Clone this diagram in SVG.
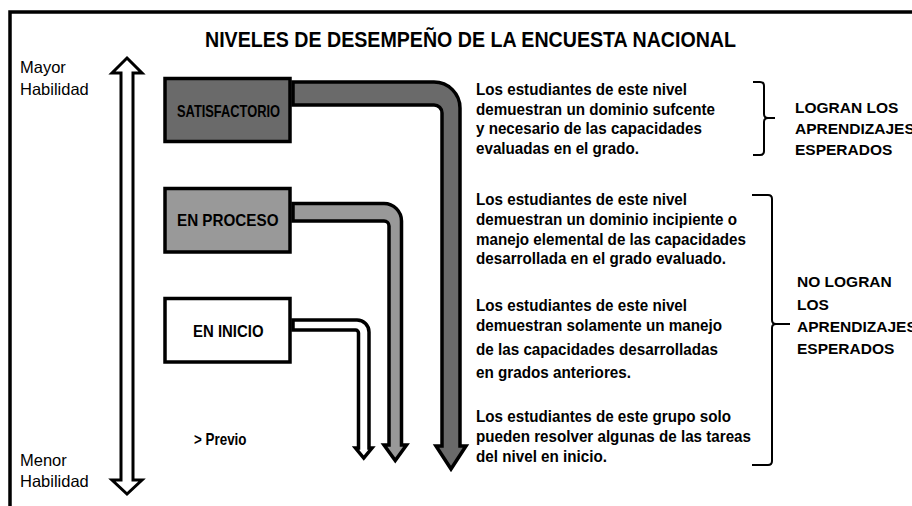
<svg xmlns="http://www.w3.org/2000/svg" width="912" height="506" viewBox="0 0 912 506">
<style>
.w{font-family:"Liberation Sans",Arial,sans-serif;font-weight:bold;fill:#000}
.r{font-family:"Liberation Sans",Arial,sans-serif;font-size:16.5px;fill:#000}
.d{font-size:16.5px}
.lab{font-size:15.5px}
.box{stroke:#000;stroke-width:3.5}
.pipe{stroke:#000;stroke-width:3.5;stroke-linejoin:miter}
.brace{fill:none;stroke:#000;stroke-width:2}
</style>
<rect width="912" height="506" fill="#fff"/>
<path d="M10 506 V12 H912" fill="none" stroke="#000" stroke-width="3.5"/>
<text class="w" x="205" y="47" font-size="22" textLength="531" lengthAdjust="spacingAndGlyphs">NIVELES DE DESEMPEÑO DE LA ENCUESTA NACIONAL</text>
<g id="scale">
<path d="M127 58 L142 73 H133 V480 H142 L127 494 L112 480 H121 V73 H112 Z" fill="#fff" stroke="#000" stroke-width="3"/>
<text class="r" x="20" y="73">Mayor</text>
<text class="r" x="20" y="95">Habilidad</text>
<text class="r" x="20" y="466">Menor</text>
<text class="r" x="20" y="487">Habilidad</text>
</g>
<g id="connectors">
<path class="pipe" fill="#6a6a6a" d="M293 82 H434 A26 26 0 0 1 460 108 V446 H466 L451 469 L436 446 H442 V113 A8 8 0 0 0 434 105 H293 Z"/>
<path class="pipe" fill="#999" d="M293 203.5 H384 A17.5 17.5 0 0 1 401.5 221 V445 H406.5 L395.25 460.5 L384 445 H389 V226 A5 5 0 0 0 384 221 H293 Z"/>
<path class="pipe" fill="#fff" d="M293 320 H357 A12 12 0 0 1 369 332 V448 H372 L363.75 458 L355.5 448 H358.5 V333 A3 3 0 0 0 355.5 330 H293 Z"/>
</g>
<g id="satisfactorio">
<rect class="box" x="165" y="78.5" width="125" height="63" fill="#6a6a6a"/>
<text class="w" x="177" y="116.5" font-size="16.5" textLength="103" lengthAdjust="spacingAndGlyphs">SATISFACTORIO</text>
</g>
<g id="en-proceso">
<rect class="box" x="165" y="188.5" width="125" height="63.5" fill="#999"/>
<text class="w" x="177" y="226" font-size="16.5" textLength="101.5" lengthAdjust="spacingAndGlyphs">EN PROCESO</text>
</g>
<g id="en-inicio">
<rect class="box" x="165" y="298.5" width="125" height="63.5" fill="#fff"/>
<text class="w" x="193" y="336.5" font-size="16.5" textLength="70.5" lengthAdjust="spacingAndGlyphs">EN INICIO</text>
</g>
<g id="previo">
<text class="w" x="194" y="445" font-size="16.5" textLength="52.5" lengthAdjust="spacingAndGlyphs">&gt; Previo</text>
</g>
<g id="desc-satisfactorio">
<text class="w d" x="476" y="95" textLength="211" lengthAdjust="spacingAndGlyphs">Los estudiantes de este nivel</text>
<text class="w d" x="476" y="114.5" textLength="239" lengthAdjust="spacingAndGlyphs">demuestran un dominio sufcente</text>
<text class="w d" x="476" y="134" textLength="226" lengthAdjust="spacingAndGlyphs">y necesario de las capacidades</text>
<text class="w d" x="476" y="153.5" textLength="163" lengthAdjust="spacingAndGlyphs">evaluadas en el grado.</text>
</g>
<g id="desc-proceso">
<text class="w d" x="476" y="205" textLength="211" lengthAdjust="spacingAndGlyphs">Los estudiantes de este nivel</text>
<text class="w d" x="476" y="225" textLength="261" lengthAdjust="spacingAndGlyphs">demuestran un dominio incipiente o</text>
<text class="w d" x="476" y="245" textLength="270" lengthAdjust="spacingAndGlyphs">manejo elemental de las capacidades</text>
<text class="w d" x="476" y="264" textLength="250" lengthAdjust="spacingAndGlyphs">desarrollada en el grado evaluado.</text>
</g>
<g id="desc-inicio">
<text class="w d" x="476" y="311" textLength="211" lengthAdjust="spacingAndGlyphs">Los estudiantes de este nivel</text>
<text class="w d" x="476" y="331" textLength="246" lengthAdjust="spacingAndGlyphs">demuestran solamente un manejo</text>
<text class="w d" x="476" y="355" textLength="242" lengthAdjust="spacingAndGlyphs">de las capacidades desarrolladas</text>
<text class="w d" x="476" y="378" textLength="155" lengthAdjust="spacingAndGlyphs">en grados anteriores.</text>
</g>
<g id="desc-previo">
<text class="w d" x="476" y="422" textLength="255" lengthAdjust="spacingAndGlyphs">Los estudiantes de este grupo solo</text>
<text class="w d" x="476" y="442" textLength="275" lengthAdjust="spacingAndGlyphs">pueden resolver algunas de las tareas</text>
<text class="w d" x="476" y="462" textLength="131" lengthAdjust="spacingAndGlyphs">del nivel en inicio.</text>
</g>
<g id="logran">
<path class="brace" d="M753 82 H760 Q764 82 764 86 V114 Q764 118 768 118 H775 M768 118 Q764 118 764 122 V151 Q764 155 760 155 H753"/>
<text class="w lab" x="795" y="113">LOGRAN LOS</text>
<text class="w lab" x="795" y="134">APRENDIZAJES</text>
<text class="w lab" x="795" y="155">ESPERADOS</text>
</g>
<g id="no-logran">
<path class="brace" d="M752 195 H768 Q772 195 772 199 V320 Q772 324 776 324 H790 M776 324 Q772 324 772 328 V461 Q772 465 768 465 H752"/>
<text class="w lab" x="797" y="287">NO LOGRAN</text>
<text class="w lab" x="797" y="310">LOS</text>
<text class="w lab" x="797" y="332">APRENDIZAJES</text>
<text class="w lab" x="797" y="354">ESPERADOS</text>
</g>
</svg>
